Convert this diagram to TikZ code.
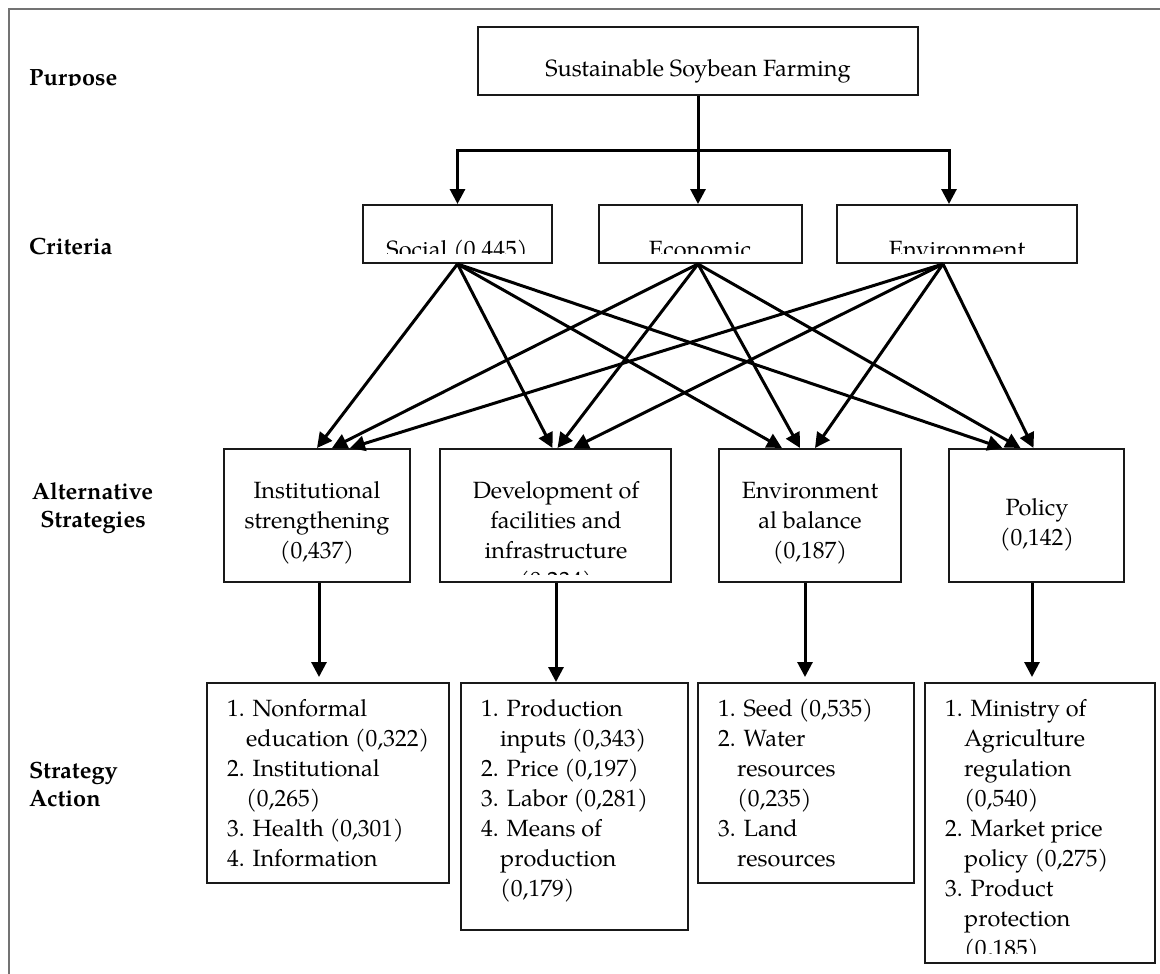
\documentclass[tikz,border=0pt]{standalone}
\usepackage{fontspec}
\setmainfont{TeX Gyre Pagella}
\usetikzlibrary{arrows.meta,calc}
\begin{document}
\begin{tikzpicture}[x=1pt,y=-1pt,
  frame/.style={draw=black!55,line width=2.2pt},
  box/.style={draw=black!90,line width=2pt,inner sep=0pt},
  arr/.style={line width=3pt,-{Triangle[length=15pt,width=15pt]}},
  lbl/.style={font=\fontsize{23.5}{30}\selectfont\bfseries,anchor=base west,inner sep=0pt},
  txt/.style={font=\fontsize{23.5}{30}\selectfont,anchor=base,inner sep=0pt},
]
\useasboundingbox (0,0) rectangle (1160,974);
\draw[frame] (9,974) -- (9,9) -- (1160,9);

% left labels
\begin{scope}
\clip (0,0) rectangle (300,86);
\node[lbl] (lpur) at (29,85) {Purpose};
\end{scope}
\node[lbl] (lcri) at (29,254) {Criteria};
\node[lbl,anchor=base] (lalt1) at (92.5,499) {Alternative};
\node[lbl,anchor=base] (lalt2) at (93,527) {Strategies};
\node[lbl] (lsa1) at (29,778) {Strategy};
\node[lbl] (lsa2) at (29,806) {Action};

% boxes
\node[box,minimum width=440pt,minimum height=68pt] (pur) at (698,61) {};
\node[box,minimum width=189pt,minimum height=58pt] (soc) at (457.5,234) {};
\node[box,minimum width=203pt,minimum height=58pt] (eco) at (700.5,234) {};
\node[box,minimum width=240pt,minimum height=58pt] (env) at (957,234) {};
\node[box,minimum width=186pt,minimum height=133pt] (inst) at (317,515.5) {};
\node[box,minimum width=231pt,minimum height=133pt] (dev) at (555.5,515.5) {};
\node[box,minimum width=182pt,minimum height=133pt] (envb) at (810,515.5) {};
\node[box,minimum width=175pt,minimum height=133pt] (pol) at (1036.5,515.5) {};
\node[box,minimum width=242pt,minimum height=200pt] (ia) at (328,783) {};
\node[box,minimum width=227pt,minimum height=247pt] (da) at (574.5,806.5) {};
\node[box,minimum width=216pt,minimum height=200pt] (ea) at (806,783) {};
\node[box,minimum width=230pt,minimum height=280pt] (pa) at (1040,823) {};

% texts
\node[txt] (tpur) at (698,77) {Sustainable Soybean Farming};
\begin{scope}
\clip (363,205) rectangle (1077,253);
\node[txt] (tsoc) at (457,257) {Social (0.445)};
\node[txt] (teco) at (700,257) {Economic};
\node[txt] (tenv) at (957,257) {Environment};
\end{scope}

\foreach \t [count=\i] in {Institutional,strengthening,{(0,437)}}
  \node[txt] (tinst-\i) at (317,468+30*\i) {\t};
\begin{scope}
\clip (440,449) rectangle (671,574);
\foreach \t [count=\i] in {Development of,facilities and,infrastructure,{(0,234)}}
  \node[txt] (tdev-\i) at (556,468+30*\i) {\t};
\end{scope}
\foreach \t [count=\i] in {Environment,al balance,{(0,187)}}
  \node[txt] (tenvb-\i) at (810,468+30*\i) {\t};
\foreach \t [count=\i] in {Policy,{(0,142)}}
  \node[txt] (tpol-\i) at (1037,485+30*\i) {\t};

\foreach \dx/\t [count=\i] in {0/{1. Nonformal},19/{education (0,322)},0/{2. Institutional},19/{(0,265)},0/{3. Health (0,301)},0/{4. Information}}
  \node[txt,anchor=base west] (tia-\i) at (227+\dx,686+30*\i) {\t};
\foreach \dx/\t [count=\i] in {0/{1. Production},19/{inputs (0,343)},0/{2. Price (0,197)},0/{3. Labor (0,281)},0/{4. Means of},19/{production},19/{(0,179)}}
  \node[txt,anchor=base west] (tda-\i) at (481+\dx,686+30*\i) {\t};
\foreach \dx/\t [count=\i] in {0/{1. Seed (0,535)},0/{2. Water},19/{resources},19/{(0,235)},0/{3. Land},19/{resources}}
  \node[txt,anchor=base west] (tea-\i) at (718+\dx,686+30*\i) {\t};
\begin{scope}
\clip (925,683) rectangle (1155,953);
\foreach \dx/\t [count=\i] in {0/{1. Ministry of},19/{Agriculture},19/{regulation},19/{(0,540)},0/{2. Market price},19/{policy (0,275)},0/{3. Product},19/{protection},19/{(0,185)}}
  \node[txt,anchor=base west] (tpa-\i) at (945+\dx,686+30*\i) {\t};
\end{scope}

% purpose to criteria
\coordinate (hb) at (698,150);
\coordinate (envin) at ($(env.north)+(-8,0)$);
\draw[line width=3pt] (pur.south) -- (hb);
\draw[arr] (hb) -- (hb |- eco.north);
\draw[arr] (hb) -| (soc.north);
\draw[arr] (hb) -| (envin);

% criteria to alternatives
\coordinate (sS) at (soc.south);
\coordinate (sE) at ($(eco.south)+(-2.5,0)$);
\coordinate (sV) at ($(env.south)+(-14,0)$);
\draw[arr] (sS) -- ($(inst.north)+(0,0)$);
\draw[arr] (sE) -- ($(inst.north)+(15,0)$);
\draw[arr] (sV) -- ($(inst.north)+(33,0)$);
\draw[arr] (sS) -- ($(dev.north)+(-3,0)$);
\draw[arr] (sE) -- ($(dev.north)+(2,0)$);
\draw[arr] (sV) -- ($(dev.north)+(18,0)$);
\draw[arr] (sS) -- ($(envb.north)+(-28,0)$);
\draw[arr] (sE) -- ($(envb.north)+(-10,0)$);
\draw[arr] (sV) -- ($(envb.north)+(5,0)$);
\draw[arr] (sS) -- ($(pol.north)+(-34,0)$);
\draw[arr] (sE) -- ($(pol.north)+(-16,0)$);
\draw[arr] (sV) -- ($(pol.north)+(-3,0)$);

% alternatives to actions
\coordinate (a1) at ($(inst.south)+(2,0)$);
\coordinate (a2) at ($(dev.south)+(0.5,0)$);
\coordinate (a3) at ($(envb.south)+(-5,0)$);
\coordinate (a4) at ($(pol.south)+(-4.5,0)$);
\draw[arr,shorten >=5pt] (a1) -- (a1 |- ia.north);
\draw[arr] (a2) -- (a2 |- da.north);
\draw[arr,shorten >=5pt] (a3) -- (a3 |- ea.north);
\draw[arr,shorten >=5pt] (a4) -- (a4 |- pa.north);
\end{tikzpicture}
\end{document}
